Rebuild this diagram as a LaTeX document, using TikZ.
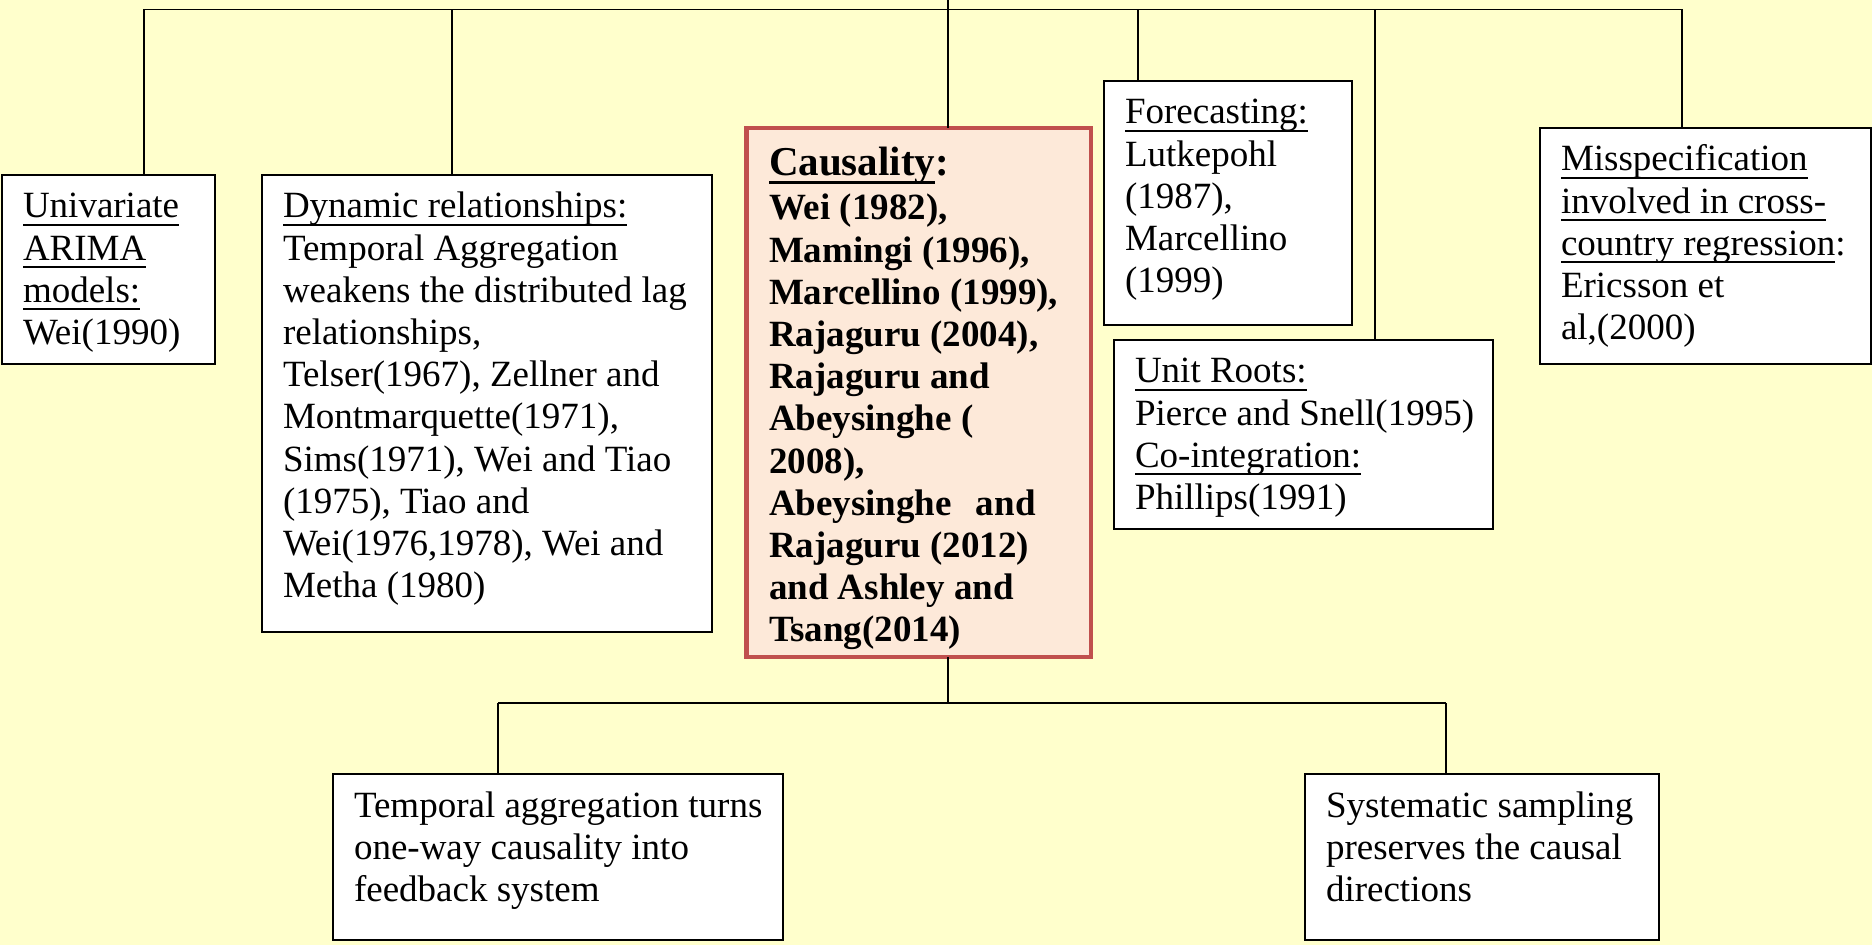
\documentclass[tikz,border=0pt]{standalone}
\usepackage{fontspec}
\setmainfont{Liberation Serif}

\definecolor{bgyellow}{HTML}{FFFFCC}
\definecolor{causred}{HTML}{C0504D}
\definecolor{causfill}{HTML}{FDE9D9}

% underlined words, the rule cuts the descenders as in the slide
\newsavebox{\ulnbox}
\newcommand{\uln}[2][0.8pt]{\sbox{\ulnbox}{#2}\rlap{\rule[-3.8pt]{\wd\ulnbox}{#1}}\usebox{\ulnbox}}

% text block at the top left of a box: width, height, lines
\newcommand{\boxtext}[3]{\parbox[t][#2][t]{#1}{%
  \begin{tabular}[t]{@{}l@{}}\rule{0pt}{21.5pt}\ignorespaces#3\end{tabular}}}

\begin{document}
\begin{tikzpicture}[x=1pt,y=-1pt]
\tikzset{
  every node/.style={font=\fontsize{18.5}{21.1}\selectfont},
  refbox/.style={draw=black, line width=0.75pt, fill=white, anchor=north west,
    inner xsep=10.5pt, inner ysep=0pt, outer sep=0pt},
  keybox/.style={refbox, draw=causred, fill=causfill, line width=2.2pt, inner xsep=11.25pt},
  link/.style={line width=0.7pt}
}

\path[use as bounding box, fill=bgyellow] (0,0) rectangle (936,472.5);

\node[refbox] (uni) at (1, 87.5) {\boxtext{85.5pt}{94.5pt}{
  \uln{Univariate}\\
  \uln{ARIMA}\\
  \uln{models:}\\
  Wei(1990)}};

\node[refbox] (dyn) at (131, 87.5) {\boxtext{204pt}{228.5pt}{
  \uln{Dynamic relationships:}\\
  Temporal Aggregation\\
  weakens the distributed lag\\
  relationships,\\
  Telser(1967), Zellner and\\
  Montmarquette(1971),\\
  Sims(1971), Wei and Tiao\\
  (1975), Tiao and\\
  Wei(1976,1978), Wei and\\
  Metha (1980)}};

\node[keybox] (caus) at (373.25, 64) {\parbox[t][264.5pt][t]{149.75pt}{%
  \bfseries
  \begin{tabular}[t]{@{}l@{}}
  \rule{0pt}{24pt}{\fontsize{20.5}{22}\selectfont\uln[1.2pt]{Causality}:}\\[0.9pt]
  Wei (1982),\\
  Mamingi (1996),\\
  Marcellino (1999),\\
  Rajaguru (2004),\\
  Rajaguru and\\
  Abeysinghe (\\
  2008),\\
  Abeysinghe\hspace{12pt}and\\
  Rajaguru (2012)\\
  and Ashley and\\
  Tsang(2014)
  \end{tabular}}};

\node[refbox] (fore) at (552, 40.5) {\boxtext{103pt}{122pt}{
  \uln{Forecasting:}\\
  Lutkepohl\\
  (1987),\\
  Marcellino\\
  (1999)}};

\node[refbox] (unit) at (557, 170) {\boxtext{168.5pt}{94.5pt}{
  \uln{Unit Roots:}\\
  Pierce and Snell(1995)\\
  \uln{Co-integration:}\\
  Phillips(1991)}};

\node[refbox] (miss) at (770, 64) {\boxtext{144.5pt}{118pt}{
  \uln{Misspecification}\\
  \uln{involved in cross-}\\
  \uln{country regression}:\\
  Ericsson et\\
  al,(2000)}};

\node[refbox] (temp) at (166.5, 387) {\boxtext{204pt}{83pt}{
  Temporal aggregation turns\\
  one-way causality into\\
  feedback system}};

\node[refbox] (syst) at (652.5, 387) {\boxtext{156pt}{83pt}{
  Systematic sampling\\
  preserves the causal\\
  directions}};

% top level line
\coordinate (tEdge) at (474, 0);
\coordinate (tUni) at (72, 4.75);
\coordinate (tDyn) at (226, 4.75);
\coordinate (tCau) at (474, 4.75);
\coordinate (tFor) at (569, 4.75);
\coordinate (tUnit) at (687.5, 4.75);
\coordinate (tMis) at (841, 4.75);
\draw[link] (tUni) -- (tMis);
\draw[link] (tEdge) -- (tCau |- caus.north);
\foreach \j/\b in {tUni/uni, tDyn/dyn, tFor/fore, tUnit/unit, tMis/miss}
  \draw[link] (\j) -- (\j |- \b.north);

% bottom level line
\coordinate (bTem) at (249, 351.5);
\coordinate (bCau) at (474, 351.5);
\coordinate (bSys) at (723, 351.5);
\draw[link] (bCau |- caus.south) -- (bCau);
\draw[link] (bTem) -- (bSys);
\draw[link] (bTem) -- (bTem |- temp.north);
\draw[link] (bSys) -- (bSys |- syst.north);

\end{tikzpicture}
\end{document}
